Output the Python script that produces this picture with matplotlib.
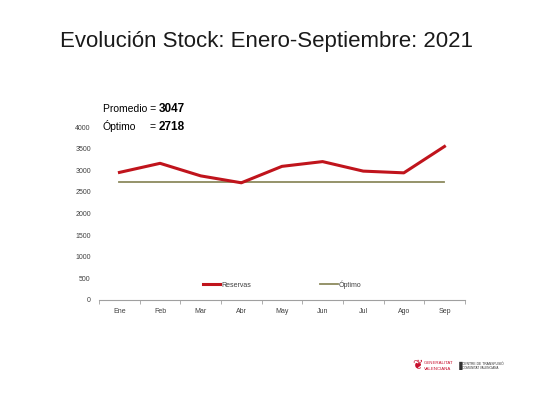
import matplotlib
matplotlib.use('Agg')
import matplotlib.pyplot as plt
from matplotlib.lines import Line2D

months = ['Ene', 'Feb', 'Mar', 'Abr', 'May', 'Jun', 'Jul', 'Ago', 'Sep']
reservas = [2950, 3160, 2870, 2710, 3090, 3200, 2980, 2940, 3550]
optimo_val = 2718
promedio_val = 3047
optimo = [optimo_val] * len(months)
yticks = [0, 500, 1000, 1500, 2000, 2500, 3000, 3500, 4000]

plt.rcParams['font.family'] = ['Liberation Sans', 'DejaVu Sans']

fig = plt.figure(figsize=(5.33, 4.0), dpi=100)
fig.patch.set_facecolor('white')
ax = fig.add_axes([0.186, 0.25, 0.686, 0.4325])

x = list(range(len(months)))
ax.plot(x, reservas, color='#c0141c', lw=2.2, solid_joinstyle='round', zorder=3)
ax.plot(x, optimo, color='#8c8a5e', lw=1.3, zorder=2)

ax.set_xlim(-0.5, len(months) - 0.5)
ax.set_ylim(0, 4000)
ax.set_yticks(yticks)
ax.set_yticklabels([str(v) for v in yticks], fontsize=5, color='#404040')
ax.set_xticks(x)
ax.set_xticklabels(months, fontsize=5, color='#404040')
ax.tick_params(axis='x', length=0, pad=6)
ax.tick_params(axis='y', length=0, pad=6)
ax.set_xticks([i + 0.5 for i in range(-1, len(months))], minor=True)
ax.tick_params(axis='x', which='minor', length=3, color='#a0a0a0', direction='out')
for s in ['top', 'right', 'left']:
    ax.spines[s].set_visible(False)
ax.spines['bottom'].set_color('#a0a0a0')
ax.spines['bottom'].set_linewidth(0.8)

handles = [Line2D([], [], color='#c0141c', lw=2.2),
           Line2D([], [], color='#8c8a5e', lw=1.3)]
leg = ax.legend(handles, ['Reservas', 'Óptimo'], loc='lower center',
                bbox_to_anchor=(0.5, 0.03), ncol=2, frameon=False,
                fontsize=5, handlelength=2.5, handletextpad=0.1,
                columnspacing=10)
for t in leg.get_texts():
    t.set_color('#404040')

fig.text(0.5, 0.895, 'Evolución Stock: Enero-Septiembre: 2021',
         ha='center', va='center', fontsize=16, color='#1a1a1a')

# summary text, bold number placed right after the label
renderer = fig.canvas.get_renderer()
inv = fig.transFigure.inverted()
lab1 = fig.text(0.193, 0.72, 'Promedio = ', fontsize=7.5, va='baseline')
x_end = inv.transform((lab1.get_window_extent(renderer).x1, 0))[0]
fig.text(x_end, 0.72, str(promedio_val), fontsize=8.5, weight='bold', va='baseline')
fig.text(0.193, 0.675, 'Óptimo', fontsize=7.5, va='baseline')
fig.text(x_end, 0.675, '= ', fontsize=7.5, va='baseline', ha='right')
fig.text(x_end, 0.675, str(optimo_val), fontsize=8.5, weight='bold', va='baseline')

# logos at the bottom right
fig.text(0.783, 0.085, '\u2766', fontsize=9, color='#c8102e', va='center', ha='center',
         family=['DejaVu Sans'])
fig.text(0.795, 0.092, 'GENERALITAT', fontsize=3.2, color='#c8102e', va='center')
fig.text(0.795, 0.077, 'VALENCIANA', fontsize=3.2, color='#c8102e', va='center')
fig.text(0.855, 0.087, '\u2590', fontsize=6, color='#303030', va='center',
         family=['DejaVu Sans'])
fig.text(0.866, 0.091, 'CENTRE DE TRANSFUSIÓ', fontsize=2.4, color='#303030', va='center')
fig.text(0.866, 0.081, 'COMUNITAT VALENCIANA', fontsize=2.2, color='#303030', va='center')

fig.savefig('out.png', dpi=100)
